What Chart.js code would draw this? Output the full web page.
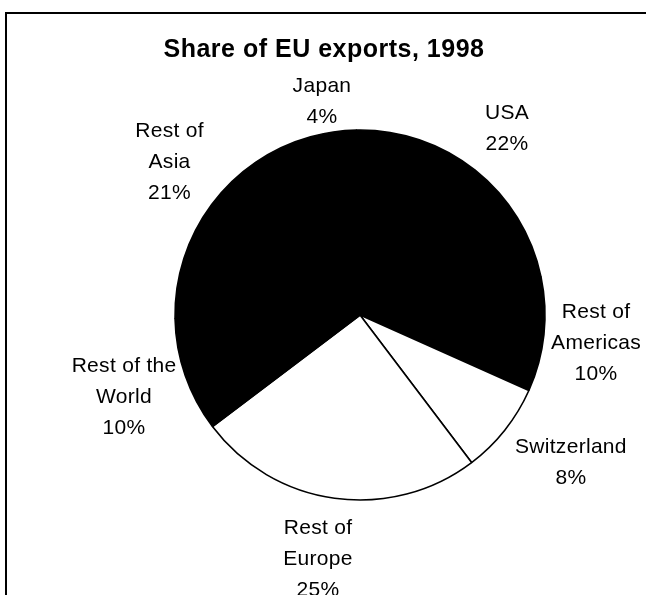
<!DOCTYPE html>
<html>
<head>
<meta charset="utf-8">
<script src="https://cdn.jsdelivr.net/npm/chart.js@4.4.0/dist/chart.umd.min.js"></script>
<style>
  html, body { margin: 0; padding: 0; background: #ffffff; }
  #wrap { width: 646px; height: 595px; position: relative; }
  canvas { display: block; }
</style>
</head>
<body>
<div id="wrap"><canvas id="c" width="646" height="595"></canvas></div>
<script>
// ---- data ----
const chartTitle = "Share of EU exports, 1998";
const categories = [
  ["Japan"],
  ["USA"],
  ["Rest of", "Americas"],
  ["Switzerland"],
  ["Rest of", "Europe"],
  ["Rest of the", "World"],
  ["Rest of", "Asia"]
];
const shares = [4, 22, 10, 8, 25, 10, 21];

// ---- styles ----
const sliceColors = ["#000000", "#000000", "#000000", "#ffffff", "#ffffff", "#000000", "#000000"];
// label placement relative to each slice (distance as a multiple of radius, angular nudge in degrees)
const labelDistance = [1.172, 1.284, 1.285, 1.391, 1.338, 1.350, 1.319];
const labelAngleShift = [-1.8, -0.25, 0.67, -3.54, 1.87, -0.06, 2.0];
const FONT = '"Liberation Sans", Arial, sans-serif';

const framePlugin = {
  id: "frame",
  beforeDraw(chart) {
    const ctx = chart.ctx;
    ctx.save();
    ctx.fillStyle = "#ffffff";
    ctx.fillRect(0, 0, chart.width, chart.height);
    ctx.strokeStyle = "#000000";
    ctx.lineWidth = 2;
    ctx.beginPath();
    ctx.moveTo(chart.width, 13);
    ctx.lineTo(6, 13);
    ctx.lineTo(6, chart.height);
    ctx.stroke();
    // title
    ctx.fillStyle = "#000000";
    ctx.font = "bold 25px " + FONT;
    ctx.letterSpacing = "0.5px";
    ctx.textAlign = "center";
    ctx.textBaseline = "middle";
    ctx.fillText(chartTitle, 324, 50);
    ctx.restore();
  }
};

const labelPlugin = {
  id: "sliceLabels",
  afterDatasetsDraw(chart) {
    const ctx = chart.ctx;
    const meta = chart.getDatasetMeta(0);
    ctx.save();
    ctx.fillStyle = "#000000";
    ctx.font = "21px " + FONT;
    ctx.letterSpacing = "0.3px";
    ctx.textAlign = "center";
    ctx.textBaseline = "middle";
    const lh = 30.8;
    meta.data.forEach((arc, i) => {
      const p = arc.getProps(["x", "y", "startAngle", "endAngle", "outerRadius"], true);
      const mid = (p.startAngle + p.endAngle) / 2 + labelAngleShift[i] * Math.PI / 180;
      const r = p.outerRadius * labelDistance[i];
      const cx = p.x + Math.cos(mid) * r;
      const cy = p.y + Math.sin(mid) * r;
      const lines = categories[i].concat([shares[i] + "%"]);
      const y0 = cy - (lines.length - 1) * lh / 2;
      lines.forEach((t, k) => ctx.fillText(t, cx, y0 + k * lh));
    });
    ctx.restore();
  }
};

new Chart(document.getElementById("c"), {
  type: "pie",
  data: {
    labels: categories,
    datasets: [{
      data: shares,
      backgroundColor: sliceColors,
      borderColor: "#000000",
      borderWidth: 1.6,
      borderAlign: "center"
    }]
  },
  options: {
    responsive: false,
    animation: false,
    rotation: -15.5,
    radius: 185,
    layout: { padding: { left: 80, right: 6, top: 85, bottom: 50 } },
    plugins: {
      legend: { display: false },
      title: { display: false },
      tooltip: { enabled: false }
    }
  },
  plugins: [framePlugin, labelPlugin]
});
</script>
</body>
</html>
